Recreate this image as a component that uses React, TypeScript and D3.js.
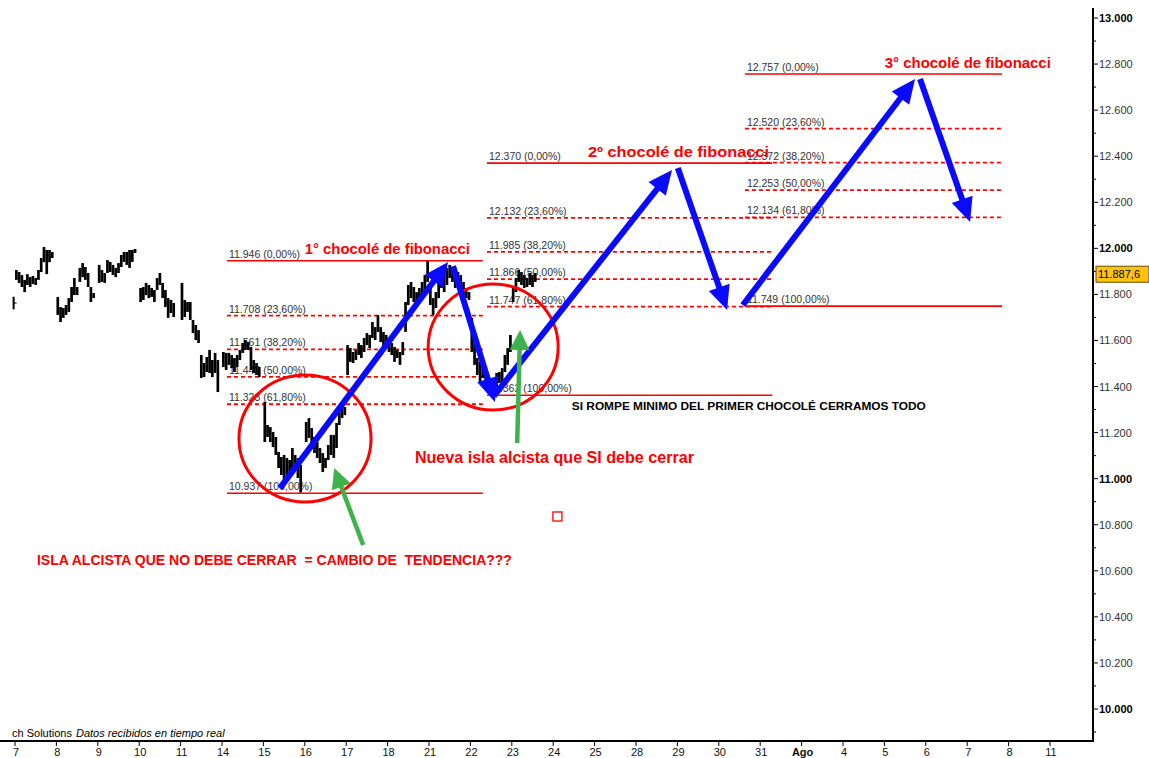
import React from "react";
import * as d3 from "d3";

// ---------- DATA ----------
const dayLabels = ["7","8","9","10","11","14","15","16","17","18","21","22","23","24","25","28","29","30","31","Ago","4","5","6","7","8","11"];
const boldDayLabels = ["Ago"];
const yTickValues = [10000,10200,10400,10600,10800,11000,11200,11400,11600,11800,12000,12200,12400,12600,12800,13000];
const yMinorTicks = [9900,10100,10300,10500,10700,10900,11100,11300,11500,11700,11900,12100,12300,12500,12700,12900];
const lastPrice = 11887.6;

// intraday bars [high, low] per trading day
const barsPrev = [[11790, 11735]];
const bars07 = [[11906,11863],[11897,11850],[11884,11832],[11863,11810],[11888,11841],[11875,11832],[11880,11845],[11871,11841],[11906,11863],[11958,11897],[12006,11940],[11993,11888],[11993,11940],[11984,11958]];
const bars08 = [[11789,11711],[11745,11680],[11741,11698],[11754,11711],[11784,11724],[11832,11767],[11871,11797],[11832,11797],[11915,11854],[11936,11875],[11919,11863],[11893,11832],[11832,11767],[11806,11784]];
const bars09 = [[11928,11850],[11906,11854],[11893,11850],[11949,11893],[11941,11897],[11928,11884],[11915,11875],[11936,11893],[11971,11919],[11984,11941],[11984,11928],[11993,11915],[11993,11941],[11997,11980]];
const bars10 = [[11828,11767],[11832,11776],[11850,11797],[11841,11784],[11828,11789],[11819,11767],[11871,11819],[11893,11841],[11850,11784],[11819,11745],[11784,11698],[11776,11719],[11763,11702]];
const bars11 = [[11850,11689],[11776,11702],[11767,11724],[11767,11689],[11689,11632],[11667,11602],[11645,11589],[11537,11437],[11502,11441],[11528,11463],[11559,11459],[11515,11441],[11546,11459],[11515,11376]];
const bars14 = [[11550,11485],[11546,11472],[11546,11494],[11537,11480],[11524,11463],[11537,11485],[11559,11515],[11589,11546],[11602,11559],[11593,11559],[11572,11472],[11515,11459],[11502,11450],[11485,11441]];
const bars15 = [[11333,11159],[11233,11181],[11224,11159],[11203,11137],[11181,11103],[11116,11046],[11094,11016],[11103,10972],[11090,11016],[11081,11029],[11133,11046],[11103,11046],[11090,11003],[11059,10940]];
const bars16 = [[11246,11159],[11263,11177],[11220,11137],[11181,11111],[11159,11090],[11133,11068],[11111,11029],[11090,11046],[11146,11081],[11190,11103],[11190,11090],[11242,11133],[11320,11233],[11333,11263],[11311,11276]];
const bars17 = [[11580,11450],[11567,11507],[11550,11502],[11559,11515],[11589,11537],[11580,11524],[11611,11550],[11632,11580],[11624,11567],[11680,11611],[11658,11602],[11711,11637],[11658,11593],[11637,11572],[11624,11567]];
const bars18 = [[11611,11550],[11589,11537],[11572,11507],[11559,11524],[11550,11494],[11593,11537],[11767,11637],[11841,11754],[11854,11784],[11832,11767],[11810,11763],[11828,11776],[11854,11797],[11884,11819],[11944,11854]];
const bars21 = [[11828,11754],[11784,11711],[11810,11741],[11854,11784],[11915,11828],[11897,11810],[11915,11841],[11928,11871],[11915,11854],[11897,11828],[11897,11841],[11884,11810],[11854,11797],[11828,11784],[11810,11776]];
const bars22 = [[11698,11550],[11593,11494],[11524,11450],[11507,11420],[11494,11437],[11463,11407],[11450,11398],[11437,11394],[11428,11365],[11459,11398],[11463,11415],[11480,11420],[11537,11463],[11567,11494],[11624,11550]];
const bars23 = [[11828,11767],[11871,11810],[11906,11854],[11897,11841],[11884,11828],[11871,11832],[11893,11841],[11884,11832],[11893,11854]];
const barDays = [bars07, bars08, bars09, bars10, bars11, bars14, bars15, bars16, bars17, bars18, bars21, bars22, bars23];

// Fibonacci retracements
const fibPercents = ["0,00%", "23,60%", "38,20%", "50,00%", "61,80%", "100,00%"];
const fib1Levels = [11946, 11708, 11561, 11442, 11323, 10937];
const fib2Levels = [12370, 12132, 11985, 11866, 11747, 11362];
const fib3Levels = [12757, 12520, 12372, 12253, 12134, 11749];
const fib1Span = [5.12, 11.3];
const fib2Span = [11.4, 18.29];
const fib3Span = [17.63, 23.84];

// annotations in (trading-day position, price)
const blueArrows = [
  [6.4, 10959, 10.46, 11941],
  [10.58, 11923, 11.59, 11333],
  [11.57, 11359, 15.87, 12340],
  [16.01, 12349, 17.2, 11732],
  [17.58, 11754, 21.74, 12735],
  [21.86, 12735, 23.07, 12114],
];
const greenArrows = [
  [8.41, 10712, 7.71, 11046],
  [12.13, 11155, 12.2, 11645],
];
const ellipses = [
  [5.41, 8.6, 10899, 11450],
  [9.98, 13.12, 11298, 11845],
];
const redSquare = [13.09, 10838];

const titles = [
  { t: "1° chocolé de fibonacci", d: 7.0, p: 11975, w: 165 },
  { t: "2º chocolé de fibonacci", d: 13.84, p: 12397, w: 181 },
  { t: "3° chocolé de fibonacci", d: 21.01, p: 12783, w: 166 },
];

const FONT = "'Liberation Sans', Arial, Helvetica, sans-serif";
const BARS_PER_DAY = 15;

function Arrow({ x1, y1, x2, y2, color, w, hl, hw }) {
  const dx = x2 - x1, dy = y2 - y1;
  const L = Math.sqrt(dx * dx + dy * dy);
  const ux = dx / L, uy = dy / L;
  const bx = x2 - ux * hl, by = y2 - uy * hl;
  const px = -uy, py = ux;
  const pts = [
    [x2, y2],
    [bx + px * hw / 2, by + py * hw / 2],
    [bx - px * hw / 2, by - py * hw / 2],
  ];
  return (
    <g>
      <line x1={x1} y1={y1} x2={bx + ux * 2} y2={by + uy * 2} stroke={color} strokeWidth={w} />
      <polygon points={pts.map((p) => p.join(",")).join(" ")} fill={color} />
    </g>
  );
}

export default function App() {
  const W = 1149, H = 758;
  const x = d3.scaleLinear().domain([0, 25]).range([15, 1050]);
  const y = d3.scaleLinear().domain([10000, 13000]).range([709, 18]);
  const dayW = x(1) - x(0);
  const axisX = 1093;
  const axisY = 741;

  const fmtLevel = (v) => (v / 1000).toFixed(3);

  const fibSet = (levels, span, key) => (
    <g key={key}>
      {levels.map((lv, i) => {
        const solid = i === 0 || i === levels.length - 1;
        return (
          <g key={i}>
            <line
              x1={x(span[0])}
              x2={x(span[1])}
              y1={y(lv)}
              y2={y(lv)}
              stroke="#ff0000"
              strokeWidth={solid ? 1.6 : 1.8}
              strokeDasharray={solid ? null : "4,3"}
            />
            <text x={x(span[0]) + 2} y={y(lv) - 3} fontSize={10.5} fill="#333" fontFamily={FONT}>
              {fmtLevel(lv) + " (" + fibPercents[i] + ")"}
            </text>
          </g>
        );
      })}
    </g>
  );

  const barLines = [];
  barsPrev.forEach((b, j) => {
    const cx = x(-1) + (BARS_PER_DAY - 0.5) * dayW / BARS_PER_DAY;
    barLines.push(<line key={"p" + j} x1={cx} x2={cx} y1={y(b[0])} y2={y(b[1])} stroke="#000" strokeWidth={2} />);
    barLines.push(<line key={"pt" + j} x1={cx} x2={cx + 3} y1={y((b[0] + b[1]) / 2)} y2={y((b[0] + b[1]) / 2)} stroke="#000" strokeWidth={1} />);
  });
  barDays.forEach((day, d) => {
    day.forEach((b, j) => {
      const cx = x(d) + (j + 0.5) * dayW / BARS_PER_DAY;
      barLines.push(
        <line key={d + "-" + j} x1={cx} x2={cx} y1={y(b[0])} y2={y(b[1])} stroke="#000" strokeWidth={2.7} />
      );
    });
  });

  return (
    <svg width={W} height={H} style={{ position: "absolute", left: 0, top: 0, background: "#fff" }}>
      <rect x={0} y={0} width={W} height={H} fill="#fff" />

      {/* fibonacci sets */}
      {fibSet(fib1Levels, fib1Span, "f1")}
      {fibSet(fib2Levels, fib2Span, "f2")}
      {fibSet(fib3Levels, fib3Span, "f3")}

      {/* price bars */}
      <g>{barLines}</g>

      {/* ellipses */}
      {ellipses.map((e, i) => (
        <ellipse
          key={i}
          cx={(x(e[0]) + x(e[1])) / 2}
          cy={(y(e[2]) + y(e[3])) / 2}
          rx={(x(e[1]) - x(e[0])) / 2}
          ry={(y(e[2]) - y(e[3])) / 2}
          fill="none"
          stroke="#ff0000"
          strokeWidth={3}
        />
      ))}

      {/* arrows */}
      {blueArrows.map((a, i) => (
        <Arrow key={"b" + i} x1={x(a[0])} y1={y(a[1])} x2={x(a[2])} y2={y(a[3])} color="#0a0aff" w={6} hl={24} hw={22} />
      ))}
      {greenArrows.map((a, i) => (
        <Arrow key={"g" + i} x1={x(a[0])} y1={y(a[1])} x2={x(a[2])} y2={y(a[3])} color="#3cb44b" w={4.5} hl={20} hw={20} />
      ))}

      {/* red square */}
      <rect x={x(redSquare[0]) - 4} y={y(redSquare[1]) - 4} width={9} height={9} fill="#fff" stroke="#ff0000" strokeWidth={1.3} />

      {/* titles */}
      {titles.map((t, i) => (
        <text key={i} x={x(t.d)} y={y(t.p)} fontSize={15} fontWeight="bold" fill="#ff0000" fontFamily={FONT} textLength={t.w} lengthAdjust="spacingAndGlyphs">
          {t.t}
        </text>
      ))}
      <text x={x(13.45)} y={y(11298)} fontSize={11} fontWeight="bold" fill="#000" fontFamily={FONT} textLength={354} lengthAdjust="spacingAndGlyphs">
        SI ROMPE MINIMO DEL PRIMER CHOCOLÉ CERRAMOS TODO
      </text>
      <text x={x(9.66)} y={y(11068)} fontSize={16} fontWeight="bold" fill="#ff0000" fontFamily={FONT} textLength={279} lengthAdjust="spacingAndGlyphs">
        Nueva isla alcista que SI debe cerrar
      </text>
      <text x={x(0.53)} y={y(10625)} fontSize={14} fontWeight="bold" fill="#ff0000" fontFamily={FONT} textLength={475} lengthAdjust="spacingAndGlyphs" style={{ whiteSpace: "pre" }}>
        {"ISLA ALCISTA QUE NO DEBE CERRAR  = CAMBIO DE  TENDENCIA???"}
      </text>

      {/* footer */}
      <text x={12} y={737} fontSize={11} fill="#000" fontFamily={FONT}>ch Solutions</text>
      <text x={76} y={737} fontSize={11} fontStyle="italic" fill="#000" fontFamily={FONT}>Datos recibidos en tiempo real</text>

      {/* axes */}
      <line x1={0} x2={axisX + 1} y1={axisY} y2={axisY} stroke="#000" strokeWidth={2} />
      <line x1={axisX} x2={axisX} y1={8} y2={axisY + 1} stroke="#000" strokeWidth={2} />
      {dayLabels.map((lab, i) => (
        <g key={"d" + i}>
          <line x1={x(i)} x2={x(i)} y1={axisY} y2={axisY + 5} stroke="#000" strokeWidth={1} />
          <text
            x={x(i) + 1}
            y={756}
            fontSize={11}
            textAnchor="middle"
            fontWeight={boldDayLabels.includes(lab) ? "bold" : "normal"}
            fill="#111"
            fontFamily={FONT}
          >
            {lab}
          </text>
        </g>
      ))}
      {yMinorTicks.map((v) => (
        <line key={"m" + v} x1={axisX} x2={axisX + 3} y1={y(v)} y2={y(v)} stroke="#000" strokeWidth={1} />
      ))}
      {yTickValues.map((v) => {
        const major = v % 1000 === 0;
        return (
          <g key={"t" + v}>
            <line x1={axisX} x2={axisX + 5} y1={y(v)} y2={y(v)} stroke="#000" strokeWidth={1} />
            <text x={axisX + 6} y={y(v) + 4} fontSize={11} fontWeight={major ? "bold" : "normal"} fill={major ? "#000" : "#333"} fontFamily={FONT}>
              {d3.format(",.3f")(v / 1000).replace(",", "")}
            </text>
          </g>
        );
      })}
      {/* last price tag */}
      <rect x={axisX + 3} y={y(lastPrice) - 8} width={53} height={16} fill="#ffc20e" stroke="#6b4e00" strokeWidth={1} />
      <text x={axisX + 5} y={y(lastPrice) + 4} fontSize={11} fill="#000" fontFamily={FONT}>
        {"11.887,6"}
      </text>
    </svg>
  );
}
